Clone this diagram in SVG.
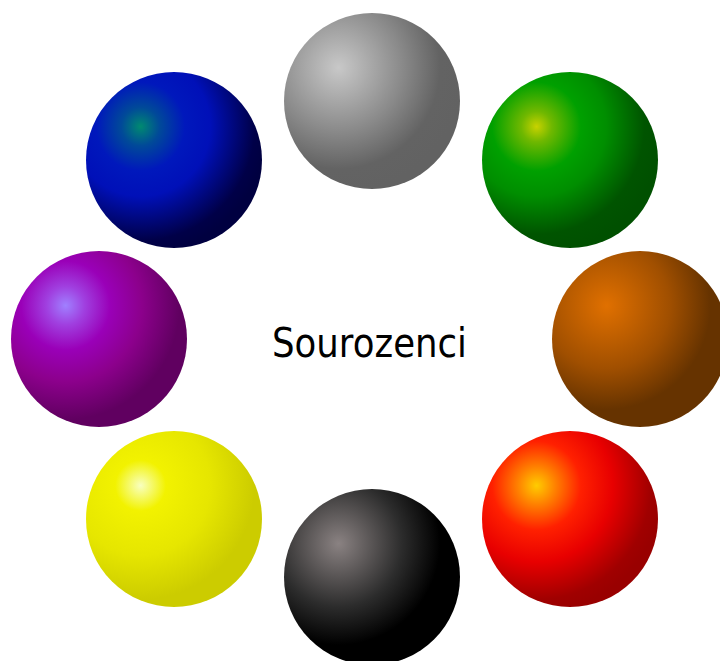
<svg xmlns="http://www.w3.org/2000/svg" width="720" height="661" viewBox="0 0 720 661">
<style>
.label{font-family:"DejaVu Sans","Verdana",sans-serif;font-size:40px;fill:#000;}
</style>
<defs>
<radialGradient id="gGray" cx="0.31" cy="0.31" r="0.72" fx="0.31" fy="0.31">
<stop offset="0" stop-color="#c8c8c8"/><stop offset="0.5" stop-color="#8a8a8a"/><stop offset="0.8" stop-color="#636363"/><stop offset="1" stop-color="#626262"/>
</radialGradient>
<radialGradient id="gGreen" cx="0.31" cy="0.31" r="0.72" fx="0.31" fy="0.31">
<stop offset="0" stop-color="#c8d200"/><stop offset="0.12" stop-color="#70b800"/><stop offset="0.35" stop-color="#00a000"/><stop offset="0.55" stop-color="#008e00"/><stop offset="0.85" stop-color="#005400"/><stop offset="1" stop-color="#005000"/>
</radialGradient>
<radialGradient id="gBrown" cx="0.31" cy="0.31" r="0.72" fx="0.31" fy="0.31">
<stop offset="0" stop-color="#e07000"/><stop offset="0.5" stop-color="#a04f00"/><stop offset="0.82" stop-color="#663300"/><stop offset="1" stop-color="#663300"/>
</radialGradient>
<radialGradient id="gRed" cx="0.31" cy="0.31" r="0.72" fx="0.31" fy="0.31">
<stop offset="0" stop-color="#ffcc00"/><stop offset="0.15" stop-color="#ff8000"/><stop offset="0.35" stop-color="#ff2000"/><stop offset="0.6" stop-color="#e80000"/><stop offset="0.9" stop-color="#a00000"/><stop offset="1" stop-color="#990000"/>
</radialGradient>
<radialGradient id="gBlack" cx="0.31" cy="0.31" r="0.72" fx="0.31" fy="0.31">
<stop offset="0" stop-color="#8a8282"/><stop offset="0.5" stop-color="#2c2c2c"/><stop offset="0.8" stop-color="#000"/><stop offset="1" stop-color="#000"/>
</radialGradient>
<radialGradient id="gYellow" cx="0.31" cy="0.31" r="0.72" fx="0.31" fy="0.31">
<stop offset="0" stop-color="#f8ffc0"/><stop offset="0.2" stop-color="#f2f200"/><stop offset="0.55" stop-color="#e6e600"/><stop offset="0.9" stop-color="#cccc00"/><stop offset="1" stop-color="#cccc00"/>
</radialGradient>
<radialGradient id="gPurple" cx="0.31" cy="0.31" r="0.72" fx="0.31" fy="0.31">
<stop offset="0" stop-color="#a080ff"/><stop offset="0.15" stop-color="#a040e0"/><stop offset="0.35" stop-color="#9a00b8"/><stop offset="0.6" stop-color="#8c008c"/><stop offset="0.9" stop-color="#600060"/><stop offset="1" stop-color="#600060"/>
</radialGradient>
<radialGradient id="gBlue" cx="0.31" cy="0.31" r="0.72" fx="0.31" fy="0.31">
<stop offset="0" stop-color="#008a70"/><stop offset="0.15" stop-color="#004a98"/><stop offset="0.35" stop-color="#0018bc"/><stop offset="0.55" stop-color="#0010b8"/><stop offset="0.9" stop-color="#000048"/><stop offset="1" stop-color="#000040"/>
</radialGradient>
</defs>
<rect width="720" height="661" fill="#fff"/>
<g id="sphere-gray"><circle cx="372" cy="101" r="88" fill="url(#gGray)"/></g>
<g id="sphere-green"><circle cx="570" cy="160" r="88" fill="url(#gGreen)"/></g>
<g id="sphere-brown"><circle cx="640" cy="339" r="88" fill="url(#gBrown)"/></g>
<g id="sphere-red"><circle cx="570" cy="519" r="88" fill="url(#gRed)"/></g>
<g id="sphere-black"><circle cx="372" cy="577" r="88" fill="url(#gBlack)"/></g>
<g id="sphere-yellow"><circle cx="174" cy="519" r="88" fill="url(#gYellow)"/></g>
<g id="sphere-purple"><circle cx="99" cy="339" r="88" fill="url(#gPurple)"/></g>
<g id="sphere-blue"><circle cx="174" cy="160" r="88" fill="url(#gBlue)"/></g>
<g id="center-label"><text class="label" x="272" y="357" textLength="195" lengthAdjust="spacingAndGlyphs">Sourozenci</text></g>
<g id="connectors"></g>
</svg>
